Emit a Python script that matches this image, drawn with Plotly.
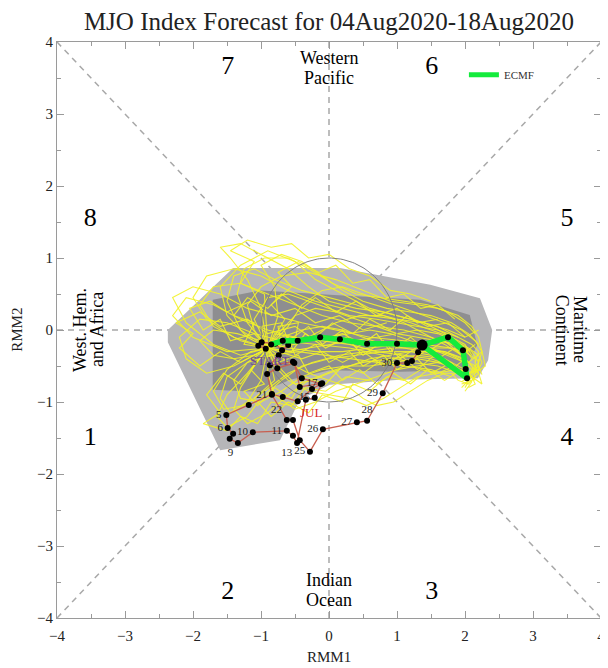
import math
import plotly.graph_objects as go

# ---------------- data ----------------
# ensemble members (RMM1, RMM2) daily forecast positions
m01 = [(-0.9,-0.25),(-1.2,-0.1),(-1.5,0.2),(-1.6,0.6),(-1.3,0.9),(-0.9,1.1),(-0.5,0.95),(-0.2,0.7),(0.2,0.5),(0.6,0.3),(1.0,0.2),(1.4,0.1),(1.7,-0.05),(2.0,-0.2),(2.1,-0.35)]
m02 = [(-0.9,-0.25),(-1.3,-0.35),(-1.7,-0.2),(-2.1,0.1),(-2.3,0.45),(-2.0,0.6),(-1.6,0.5),(-1.2,0.3),(-0.8,0.2),(-0.4,0.1),(0.1,0.0),(0.6,-0.1),(1.1,-0.15),(1.6,-0.3),(2.0,-0.45)]
m03 = [(-0.9,-0.25),(-1.1,-0.5),(-1.3,-0.8),(-1.4,-1.1),(-1.2,-1.3),(-0.9,-1.15),(-0.6,-0.9),(-0.3,-0.7),(0.1,-0.55),(0.5,-0.45),(0.9,-0.4),(1.3,-0.35),(1.7,-0.4),(2.0,-0.55),(2.15,-0.7)]
m04 = [(-0.9,-0.25),(-0.7,-0.1),(-0.4,0.0),(-0.1,0.05),(0.2,0.0),(0.5,-0.1),(0.8,-0.2),(1.1,-0.25),(1.4,-0.3),(1.7,-0.3),(1.95,-0.4),(2.15,-0.5),(2.2,-0.6),(2.1,-0.7),(1.95,-0.75)]
m05 = [(-0.9,-0.25),(-1.1,0.0),(-1.2,0.35),(-1.0,0.6),(-0.7,0.75),(-0.3,0.8),(0.1,0.7),(0.5,0.55),(0.9,0.4),(1.3,0.35),(1.6,0.3),(1.9,0.2),(2.1,0.05),(2.2,-0.1),(2.25,-0.3)]
m06 = [(-0.9,-0.25),(-1.4,-0.5),(-1.8,-0.6),(-2.1,-0.4),(-2.2,-0.1),(-1.9,0.15),(-1.5,0.1),(-1.1,-0.05),(-0.7,-0.15),(-0.2,-0.2),(0.3,-0.25),(0.8,-0.35),(1.2,-0.45),(1.6,-0.5),(1.9,-0.6)]
m07 = [(-0.9,-0.25),(-0.8,-0.5),(-0.6,-0.7),(-0.3,-0.85),(0.0,-0.9),(0.3,-0.95),(0.55,-1.05),(0.8,-0.95),(1.05,-0.8),(1.3,-0.65),(1.6,-0.6),(1.85,-0.55),(2.05,-0.6),(2.2,-0.55),(2.2,-0.4)]
m08 = [(-0.9,-0.25),(-1.0,0.3),(-1.2,0.7),(-1.45,1.0),(-1.6,1.15),(-1.3,1.2),(-1.0,1.05),(-0.6,0.85),(-0.3,0.6),(0.0,0.4),(0.4,0.3),(0.8,0.25),(1.2,0.15),(1.6,0.05),(1.9,-0.1)]
m09 = [(-0.9,-0.25),(-1.2,-0.6),(-1.5,-0.9),(-1.65,-1.2),(-1.5,-1.35),(-1.2,-1.2),(-1.0,-0.95),(-0.7,-0.7),(-0.4,-0.5),(0.0,-0.4),(0.4,-0.35),(0.8,-0.3),(1.2,-0.3),(1.5,-0.35),(1.8,-0.45)]
m10 = [(-0.9,-0.25),(-0.6,-0.3),(-0.3,-0.25),(0.0,-0.2),(0.35,-0.15),(0.7,-0.1),(1.0,-0.05),(1.3,0.0),(1.6,-0.05),(1.85,-0.15),(2.05,-0.25),(2.2,-0.35),(2.25,-0.45),(2.2,-0.55),(2.1,-0.6)]
m11 = [(-0.9,-0.25),(-1.3,-0.15),(-1.7,0.05),(-1.9,0.35),(-1.7,0.6),(-1.3,0.65),(-0.9,0.5),(-0.5,0.35),(-0.1,0.2),(0.3,0.1),(0.7,0.05),(1.1,0.0),(1.5,-0.1),(1.8,-0.2),(2.05,-0.3)]
m12 = [(-0.9,-0.25),(-0.9,-0.6),(-0.8,-0.9),(-0.5,-1.1),(-0.2,-1.0),(0.1,-0.85),(0.4,-0.75),(0.7,-0.65),(1.0,-0.55),(1.3,-0.5),(1.6,-0.45),(1.85,-0.5),(2.0,-0.6),(2.05,-0.72),(2.0,-0.8)]
m13 = [(-0.9,-0.25),(-1.1,0.15),(-0.9,0.45),(-0.6,0.5),(-0.3,0.4),(0.0,0.3),(0.3,0.2),(0.7,0.15),(1.0,0.1),(1.3,0.05),(1.6,0.0),(1.9,-0.1),(2.1,-0.2),(2.2,-0.3),(2.15,-0.45)]
m14 = [(-0.9,-0.25),(-1.5,-0.3),(-2.0,-0.1),(-2.3,0.2),(-2.1,0.45),(-1.7,0.35),(-1.3,0.15),(-0.9,0.0),(-0.5,-0.1),(-0.1,-0.15),(0.3,-0.2),(0.7,-0.3),(1.1,-0.35),(1.5,-0.4),(1.8,-0.5)]
m15 = [(-0.9,-0.25),(-0.6,0.05),(-0.4,0.35),(-0.1,0.55),(0.2,0.6),(0.5,0.5),(0.8,0.4),(1.1,0.3),(1.4,0.2),(1.7,0.1),(1.95,0.0),(2.15,-0.15),(2.25,-0.3),(2.2,-0.45),(2.1,-0.55)]
m16 = [(-0.9,-0.25),(-1.2,-0.45),(-1.4,-0.7),(-1.3,-0.95),(-1.0,-1.0),(-0.7,-0.85),(-0.4,-0.65),(-0.1,-0.55),(0.25,-0.5),(0.6,-0.5),(0.95,-0.45),(1.3,-0.4),(1.6,-0.45),(1.9,-0.55),(2.1,-0.65)]
m17 = [(-0.9,-0.25),(-0.75,0.2),(-0.8,0.6),(-1.0,0.9),(-0.7,1.05),(-0.4,0.95),(-0.1,0.75),(0.2,0.55),(0.5,0.4),(0.85,0.3),(1.2,0.25),(1.5,0.2),(1.8,0.1),(2.05,-0.05),(2.2,-0.2)]
m18 = [(-0.9,-0.25),(-0.7,-0.55),(-0.5,-0.75),(-0.25,-0.7),(0.0,-0.6),(0.3,-0.5),(0.6,-0.4),(0.9,-0.35),(1.2,-0.3),(1.5,-0.25),(1.75,-0.25),(2.0,-0.3),(2.15,-0.4),(2.15,-0.55),(2.05,-0.65)]
m19 = [(-0.9,-0.25),(-1.3,0.0),(-1.5,0.4),(-1.4,0.75),(-1.1,0.85),(-0.8,0.7),(-0.4,0.55),(0.0,0.45),(0.4,0.35),(0.8,0.2),(1.2,0.1),(1.5,0.0),(1.8,-0.1),(2.0,-0.25),(2.1,-0.4)]
m20 = [(-0.9,-0.25),(-1.1,-0.35),(-1.4,-0.4),(-1.7,-0.35),(-1.9,-0.15),(-1.7,0.0),(-1.35,-0.05),(-1.0,-0.15),(-0.6,-0.25),(-0.2,-0.3),(0.2,-0.3),(0.6,-0.25),(1.0,-0.2),(1.4,-0.2),(1.8,-0.25)]
m21 = [(-0.9,-0.25),(-0.5,-0.2),(-0.2,-0.05),(0.1,0.1),(0.45,0.2),(0.8,0.2),(1.1,0.1),(1.4,-0.05),(1.7,-0.2),(1.95,-0.35),(2.1,-0.5),(2.15,-0.65),(2.05,-0.75),(1.9,-0.7),(1.8,-0.6)]
m22 = [(-0.9,-0.25),(-1.0,-0.7),(-1.2,-1.0),(-1.45,-1.15),(-1.6,-0.95),(-1.5,-0.65),(-1.2,-0.45),(-0.85,-0.35),(-0.45,-0.3),(-0.05,-0.35),(0.35,-0.4),(0.75,-0.45),(1.15,-0.5),(1.5,-0.55),(1.8,-0.65)]
m23 = [(-0.9,-0.25),(-0.7,0.0),(-0.5,0.2),(-0.2,0.3),(0.1,0.25),(0.4,0.15),(0.7,0.05),(1.0,-0.05),(1.3,-0.1),(1.6,-0.15),(1.9,-0.2),(2.1,-0.3),(2.2,-0.45),(2.15,-0.6),(2.0,-0.7)]
m24 = [(-0.9,-0.25),(-1.2,0.1),(-1.35,0.5),(-1.25,0.85),(-0.95,1.0),(-0.6,1.0),(-0.3,0.85),(0.05,0.65),(0.4,0.5),(0.75,0.45),(1.1,0.4),(1.45,0.35),(1.75,0.25),(2.0,0.1),(2.15,-0.05)]
m25 = [(-0.9,-0.25),(-0.6,-0.45),(-0.3,-0.6),(0.0,-0.7),(0.3,-0.8),(0.5,-0.95),(0.7,-1.05),(0.95,-1.0),(1.2,-0.85),(1.45,-0.7),(1.7,-0.6),(1.95,-0.6),(2.1,-0.65),(2.15,-0.75),(2.05,-0.8)]
m26 = [(-0.9,-0.25),(-1.4,-0.1),(-1.8,0.15),(-2.0,0.45),(-1.8,0.75),(-1.4,0.85),(-1.0,0.75),(-0.6,0.55),(-0.2,0.4),(0.2,0.3),(0.6,0.2),(1.0,0.15),(1.4,0.1),(1.75,0.0),(2.0,-0.1)]
m27 = [(-0.9,-0.25),(-0.8,-0.05),(-0.55,-0.1),(-0.3,-0.15),(0.0,-0.1),(0.3,-0.05),(0.6,0.0),(0.9,-0.05),(1.2,-0.15),(1.5,-0.25),(1.8,-0.35),(2.0,-0.45),(2.1,-0.55),(2.05,-0.65),(1.95,-0.72)]
m28 = [(-0.9,-0.25),(-1.15,-0.3),(-1.5,-0.55),(-1.7,-0.85),(-1.55,-1.1),(-1.25,-1.05),(-0.95,-0.85),(-0.6,-0.6),(-0.25,-0.45),(0.15,-0.35),(0.55,-0.3),(0.95,-0.25),(1.35,-0.25),(1.7,-0.3),(2.0,-0.4)]
m29 = [(-0.9,-0.25),(-0.6,-0.1),(-0.5,-0.35),(-0.2,-0.2),(0.0,-0.45),(0.3,-0.3),(0.5,-0.5),(0.8,-0.35),(1.0,-0.55),(1.3,-0.4),(1.5,-0.6),(1.8,-0.45),(2.0,-0.65),(2.2,-0.5),(2.25,-0.62)]
m30 = [(-0.9,-0.25),(-1.0,0.05),(-0.7,0.1),(-0.6,-0.15),(-0.3,0.05),(-0.1,-0.2),(0.2,0.0),(0.4,-0.25),(0.7,-0.05),(0.9,-0.3),(1.2,-0.1),(1.45,-0.3),(1.7,-0.15),(1.95,-0.35),(2.15,-0.2)]
m31 = [(-0.9,-0.25),(-1.25,-0.2),(-1.1,0.1),(-1.4,0.2),(-1.2,0.45),(-0.9,0.3),(-0.7,0.5),(-0.4,0.3),(-0.2,0.45),(0.1,0.25),(0.4,0.4),(0.7,0.2),(1.0,0.3),(1.3,0.1),(1.6,0.15)]
m32 = [(-0.9,-0.25),(-1.3,-0.45),(-1.6,-0.3),(-1.9,-0.5),(-2.2,-0.25),(-2.0,-0.05),(-2.25,0.1),(-1.9,0.25),(-1.6,0.05),(-1.2,0.15),(-0.9,-0.05),(-0.5,0.05),(-0.2,-0.15),(0.2,-0.05),(0.5,-0.2)]
m33 = [(-0.9,-0.25),(-0.75,-0.45),(-0.45,-0.35),(-0.3,-0.6),(0.0,-0.5),(0.2,-0.7),(0.45,-0.55),(0.7,-0.75),(0.95,-0.6),(1.2,-0.75),(1.45,-0.55),(1.7,-0.7),(1.95,-0.55),(2.1,-0.72),(2.0,-0.85)]
m34 = [(-0.9,-0.25),(-1.15,-0.55),(-0.95,-0.75),(-1.25,-0.85),(-1.05,-1.05),(-0.8,-0.8),(-0.55,-0.95),(-0.35,-0.65),(-0.05,-0.75),(0.2,-0.5),(0.5,-0.6),(0.8,-0.4),(1.1,-0.5),(1.4,-0.3),(1.7,-0.4)]
m35 = [(-0.9,-0.25),(-0.65,0.15),(-0.85,0.35),(-0.55,0.6),(-0.75,0.8),(-0.45,0.95),(-0.15,0.8),(0.1,0.9),(0.35,0.65),(0.6,0.7),(0.85,0.45),(1.1,0.5),(1.35,0.3),(1.6,0.35),(1.85,0.15)]
m36 = [(-0.9,-0.25),(-0.55,-0.3),(-0.35,-0.05),(-0.05,-0.25),(0.25,-0.1),(0.5,-0.35),(0.8,-0.15),(1.05,-0.4),(1.35,-0.2),(1.6,-0.4),(1.85,-0.25),(2.05,-0.45),(2.25,-0.3),(2.3,-0.5),(2.15,-0.6)]
m37 = [(-0.9,-0.25),(-1.1,-0.05),(-1.45,-0.15),(-1.6,0.15),(-1.85,0.0),(-2.05,0.3),(-1.75,0.4),(-1.5,0.25),(-1.15,0.4),(-0.85,0.2),(-0.5,0.3),(-0.2,0.1),(0.15,0.2),(0.5,0.0),(0.85,0.1)]
m38 = [(-0.9,-0.25),(-0.8,-0.7),(-1.1,-0.95),(-0.85,-1.2),(-0.6,-1.0),(-0.3,-1.15),(-0.1,-0.9),(0.2,-1.0),(0.35,-0.75),(0.6,-0.85),(0.85,-0.65),(1.1,-0.7),(1.35,-0.55),(1.6,-0.6),(1.85,-0.5)]
m39 = [(-0.9,-0.25),(-0.7,-0.2),(-0.75,0.05),(-0.45,0.1),(-0.5,-0.15),(-0.2,-0.1),(0.05,0.1),(0.35,-0.05),(0.6,0.15),(0.9,0.0),(1.15,0.2),(1.45,0.05),(1.75,0.1),(2.0,-0.1),(2.2,0.0)]
m40 = [(-0.9,-0.25),(-1.3,-0.75),(-1.55,-0.6),(-1.8,-0.9),(-1.6,-1.15),(-1.85,-1.3),(-1.5,-1.4),(-1.3,-1.2),(-1.05,-1.3),(-0.85,-1.0),(-0.55,-1.05),(-0.35,-0.8),(-0.05,-0.85),(0.25,-0.65),(0.6,-0.7)]
m41 = [(-0.9,-0.25),(-0.95,0.5),(-1.3,0.65),(-1.1,0.95),(-1.45,1.1),(-1.2,1.25),(-0.85,1.15),(-0.55,1.2),(-0.3,1.0),(0.0,1.05),(0.3,0.85),(0.6,0.75),(0.9,0.55),(1.2,0.5),(1.5,0.4)]
m42 = [(-0.9,-0.25),(-0.4,-0.4),(-0.1,-0.3),(0.2,-0.45),(0.5,-0.3),(0.8,-0.5),(1.05,-0.35),(1.3,-0.55),(1.55,-0.35),(1.8,-0.55),(2.0,-0.4),(2.2,-0.6),(2.25,-0.75),(2.1,-0.65),(1.95,-0.8)]
members = [m01,m02,m03,m04,m05,m06,m07,m08,m09,m10,m11,m12,m13,m14,
           m15,m16,m17,m18,m19,m20,m21,m22,m23,m24,m25,m26,m27,m28,
           m29,m30,m31,m32,m33,m34,m35,m36,m37,m38,m39,m40,m41,m42]

# ensemble spread envelopes (90% and 50%)
outer_rmm1 = [-2.37,-1.41,0.16,1.49,2.22,2.40,2.34,2.19,1.04,0.01,-0.43,-0.72,-1.60,-2.37]
outer_rmm2 = [0.0,0.86,0.86,0.63,0.44,0.0,-0.42,-0.67,-0.69,-0.76,-0.97,-1.53,-1.67,-0.17]
inner_rmm1 = [-1.71,-1.0,0.01,1.34,2.07,2.18,2.0,1.04,0.01,-0.57,-0.99,-1.71]
inner_rmm2 = [0.42,0.55,0.49,0.42,0.21,-0.21,-0.56,-0.58,-0.56,-0.69,-0.86,-0.83]

# ECMF ensemble mean forecast
ecmf_rmm1 = [-0.85,-0.68,-0.46,-0.13,0.16,0.56,1.0,1.37,1.75,1.97,2.01,2.03,1.37]
ecmf_rmm2 = [-0.20,-0.15,-0.15,-0.10,-0.13,-0.19,-0.19,-0.21,-0.10,-0.28,-0.54,-0.67,-0.21]

# observed MJO index (late June - early August)
obs_rmm1 = [-1.04,-0.93,-0.99,-0.79,-0.69,-0.60,-0.74,-0.87,-0.53,-0.40,-0.12,-0.25,
            -0.46,-0.68,-0.84,-1.18,-1.51,-1.49,-1.41,-1.46,-1.34,-1.12,-0.62,-0.53,-0.47,
            -0.34,-0.21,-0.10,-0.43,-0.51,-0.76,-0.91,-0.84,-0.62,-0.53,-0.43,-0.28,-0.09,
            0.41,0.56,0.79,1.00,1.15,1.22,1.31,1.37]
obs_rmm2 = [-0.22,-0.26,-0.17,-0.19,-0.28,-0.21,-0.35,-0.49,-0.44,-0.67,-0.75,-0.82,
            -0.99,-0.93,-0.89,-1.04,-1.18,-1.36,-1.44,-1.51,-1.57,-1.42,-1.40,-1.47,-1.57,
            -0.97,-0.94,-0.74,-0.79,-0.46,-0.53,-0.61,-0.90,-1.25,-1.25,-1.53,-1.69,-1.38,
            -1.28,-1.26,-0.88,-0.46,-0.46,-0.43,-0.31,-0.21]
obs_day = ["","","","","","","","","","","","",
           "","","","","5","6","","","9","10","11","","13",
           "","15","17","","","","","21","22","","","25","26",
           "27","28","29","30","","","",""]
obs_textpos = ["middle left"] * len(obs_day)
obs_textpos[24] = "bottom left"
obs_textpos[20] = "bottom left"
obs_textpos[33] = "top left"
obs_textpos[39] = "top center"

phase_labels = ["1","2","3","4","5","6","7","8"]
phase_rmm1 = [-3.51,-1.49,1.51,3.5,3.5,1.51,-1.49,-3.51]
phase_rmm2 = [-1.5,-3.64,-3.64,-1.5,1.53,3.64,3.64,1.53]
ticks = [-4,-3,-2,-1,0,1,2,3,4]

SERIF = "Liberation Serif"

fig = go.Figure()

# dashed phase separators (outside the unit circle)
dash_segments = [((-4,-4),(-0.707,-0.707)),((4,4),(0.707,0.707)),((-4,4),(-0.707,0.707)),
                 ((4,-4),(0.707,-0.707)),((-4,0),(-1,0)),((4,0),(1,0)),((0,4),(0,1)),((0,-4),(0,-1))]
for (a, b) in dash_segments:
    fig.add_shape(type="line", x0=a[0], y0=a[1], x1=b[0], y1=b[1], layer="below",
                  line=dict(color="#a8a8a8", width=1.5, dash="6px,5px"))

# gray spread
fig.add_trace(go.Scatter(x=outer_rmm1, y=outer_rmm2, fill="toself", mode="none",
                         fillcolor="#b6b6b8", showlegend=False, hoverinfo="skip"))
fig.add_trace(go.Scatter(x=inner_rmm1, y=inner_rmm2, fill="toself", mode="none",
                         fillcolor="#8e8e90", showlegend=False, hoverinfo="skip"))

# ensemble members
for m in members:
    fig.add_trace(go.Scatter(x=[p[0] for p in m], y=[p[1] for p in m], mode="lines",
                             line=dict(color="rgba(242,242,40,0.9)", width=1.1),
                             showlegend=False, hoverinfo="skip"))

# amplitude-one circle
cx = [math.cos(2*math.pi*i/180) for i in range(181)]
cy = [math.sin(2*math.pi*i/180) for i in range(181)]
fig.add_trace(go.Scatter(x=cx, y=cy, mode="lines", line=dict(color="#808080", width=1),
                         showlegend=False, hoverinfo="skip"))

# observed path
fig.add_trace(go.Scatter(x=obs_rmm1, y=obs_rmm2, mode="lines+markers+text",
                         line=dict(color="rgb(200,95,80)", width=1.3),
                         marker=dict(color="black", size=6),
                         text=obs_day, textposition=obs_textpos,
                         textfont=dict(family=SERIF, size=11, color="#222"),
                         showlegend=False, hoverinfo="skip"))
fig.add_annotation(x=-0.88, y=-0.43, text="START", showarrow=False,
                   font=dict(family=SERIF, size=13, color="rgb(110,70,150)"))
fig.add_annotation(x=-0.26, y=-1.15, text="JUL", showarrow=False,
                   font=dict(family=SERIF, size=13, color="rgb(215,40,40)"))

# ECMF mean
fig.add_trace(go.Scatter(x=ecmf_rmm1, y=ecmf_rmm2, mode="lines+markers",
                         line=dict(color="rgb(20,235,60)", width=5.5),
                         marker=dict(color="black", size=6),
                         showlegend=False, hoverinfo="skip"))
fig.add_trace(go.Scatter(x=[ecmf_rmm1[7]], y=[ecmf_rmm2[7]], mode="markers",
                         marker=dict(color="black", size=11),
                         showlegend=False, hoverinfo="skip"))
# legend entry
fig.add_trace(go.Scatter(x=[None], y=[None], mode="lines", name="ECMF",
                         line=dict(color="rgb(20,235,60)", width=5)))

# phase numbers
fig.add_trace(go.Scatter(x=phase_rmm1, y=phase_rmm2, mode="text", text=phase_labels,
                         textfont=dict(family=SERIF, size=26, color="black"),
                         showlegend=False, hoverinfo="skip"))

# region names
region_font = dict(family=SERIF, size=18, color="black")
fig.add_annotation(x=0, y=3.78, text="Western", showarrow=False, font=region_font)
fig.add_annotation(x=0, y=3.50, text="Pacific", showarrow=False, font=region_font)
fig.add_annotation(x=0, y=-3.47, text="Indian", showarrow=False, font=region_font)
fig.add_annotation(x=0, y=-3.75, text="Ocean", showarrow=False, font=region_font)
fig.add_annotation(x=-3.66, y=0, text="West. Hem.", showarrow=False, textangle=-90, font=region_font)
fig.add_annotation(x=-3.41, y=0, text="and Africa", showarrow=False, textangle=-90, font=region_font)
fig.add_annotation(x=3.69, y=0, text="Maritime", showarrow=False, textangle=90, font=region_font)
fig.add_annotation(x=3.43, y=0, text="Continent", showarrow=False, textangle=90, font=region_font)

# axis titles
fig.add_annotation(xref="paper", yref="paper", x=0.5, y=-0.0677, text="RMM1", showarrow=False,
                   xanchor="center", yanchor="middle",
                   font=dict(family=SERIF, size=15, color="#222"))
fig.add_annotation(xref="paper", yref="paper", x=-0.074, y=0.5, text="RMM2", showarrow=False,
                   xanchor="center", yanchor="middle",
                   textangle=-90, font=dict(family=SERIF, size=15, color="#222"))

axis_common = dict(range=[-4, 4], tickvals=ticks, ticks="inside", ticklen=7, tickwidth=1,
                   tickcolor="#9a9a9a", showline=True, linecolor="#9a9a9a", linewidth=1,
                   mirror="allticks", showgrid=False, zeroline=False, automargin=False,
                   minor=dict(dtick=0.5, ticks="inside", ticklen=4, tickcolor="#9a9a9a"),
                   tickfont=dict(family=SERIF, size=15, color="#222"))

fig.update_layout(
    width=600, height=660,
    margin=dict(l=49, r=7, t=34, b=50, autoexpand=False),
    paper_bgcolor="white", plot_bgcolor="white",
    title=dict(text="MJO Index Forecast for 04Aug2020-18Aug2020", xref="paper", x=0.5,
               xanchor="center", y=0.98, yanchor="middle", automargin=False,
               font=dict(family=SERIF, size=25, color="#222")),
    xaxis=dict(**axis_common, ticklabelstandoff=4),
    yaxis=dict(**axis_common),
    legend=dict(x=0.748, y=0.943, xanchor="left", yanchor="middle",
                bgcolor="rgba(0,0,0,0)", font=dict(family=SERIF, size=11, color="#333")),
)

fig.write_html("out.html")
